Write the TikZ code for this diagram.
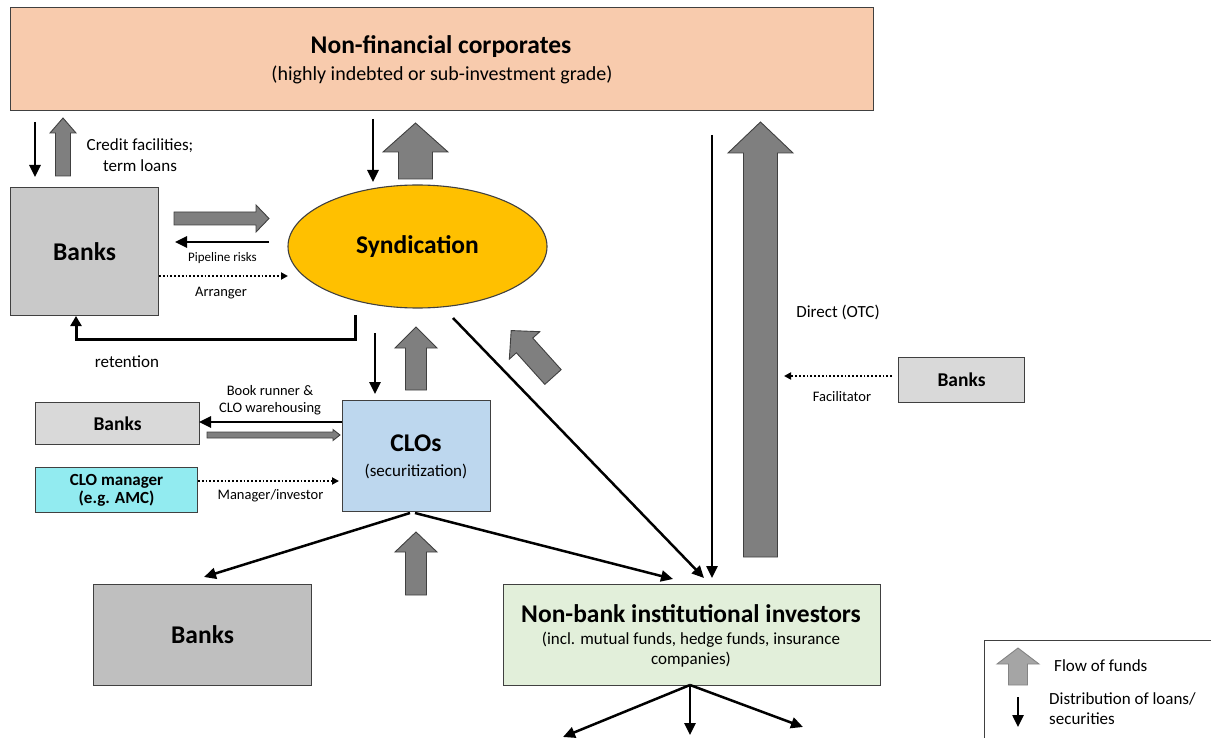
\documentclass[tikz,border=0pt]{standalone}
\usepackage{fontspec}
\setmainfont{Carlito}
\usetikzlibrary{arrows.meta,shapes.geometric,calc}
\definecolor{peach}{HTML}{F8CBAD}
\definecolor{gold}{HTML}{FFC000}
\definecolor{bankgray}{HTML}{C9C9C9}
\definecolor{lightgray}{HTML}{D9D9D9}
\definecolor{midgray}{HTML}{BFBFBF}
\definecolor{clob}{HTML}{BDD7EE}
\definecolor{cyanbox}{HTML}{92EBF0}
\definecolor{greenbox}{HTML}{E2EFDA}
\definecolor{flowgray}{HTML}{7F7F7F}
\definecolor{legendgray}{HTML}{A5A5A5}
\definecolor{edge}{HTML}{404040}
\newcommand{\fs}[1]{\fontsize{#1}{#1}\selectfont}
\newcommand{\blockarr}[7][]{%
  \begin{scope}[shift={(#2)},rotate=#3]
  \draw[flow,#1] (0,#5) -- ({#4-#7},#5) -- ({#4-#7},#6) -- (#4,0) -- ({#4-#7},-#6) -- ({#4-#7},-#5) -- (0,-#5) -- cycle;
  \end{scope}}
\tikzset{
  box/.style={draw=edge, line width=1.1pt, inner sep=0pt, align=center, anchor=north west},
  conn/.style={line width=2.5pt, -{Triangle[length=12pt,width=11pt]}},
  dotconn/.style={line width=1.8pt, dotted, -{Triangle[length=7pt,width=7pt]}},
  flow/.style={fill=flowgray, draw=edge, line width=0.9pt},
  lbl/.style={font=\fs{17}, align=center, inner sep=0pt},
  slbl/.style={font=\fs{14.5}, align=center, inner sep=0pt},
  big/.style={font=\fs{25.5}\bfseries},
}
\begin{document}
\begin{tikzpicture}[x=1pt,y=-1pt]
\useasboundingbox (0,0) rectangle (1211,738);
% boxes
\node[box, fill=peach, minimum width=863pt, minimum height=103pt] (nfc) at (10,7) {};
\node[big] (nfct) at (441,47) {Non-financial corporates};
\node[font=\fs{20}] (nfcs) at (442,75) {(highly indebted or sub-investment grade)};
\node[box, fill=bankgray, minimum width=148pt, minimum height=128pt, big] (banks1) at (10,187) {Banks};
\node[draw=edge, line width=1.1pt, fill=gold, ellipse, minimum width=259pt, minimum height=123pt, inner sep=0pt, big] (synd) at (417.5,246.5) {Syndication};
\node[box, fill=lightgray, minimum width=164pt, minimum height=42pt, font=\fs{19.5}\bfseries] (banks2) at (35,402) {Banks};
\node[box, fill=cyanbox, minimum width=162pt, minimum height=45pt, font=\fs{17}\bfseries] (mgr) at (35,467) {CLO manager\\[1pt](e.g. AMC)};
\node[box, fill=clob, minimum width=148pt, minimum height=111pt] (clo) at (342,400) {};
\node[big] (clot) at (416,443) {CLOs};
\node[lbl] (clos) at (416,471) {(securitization)};
\node[box, fill=midgray, minimum width=218pt, minimum height=101pt, big] (banks3) at (93,584) {Banks};
\node[box, fill=greenbox, minimum width=377pt, minimum height=101pt] (nbi) at (503,584) {};
\node[big] (nbit) at (691,614) {Non-bank institutional investors};
\node[lbl] (nbis) at (691,650) {(incl. mutual funds, hedge funds, insurance\\[3pt]companies)};
\node[box, fill=lightgray, minimum width=126pt, minimum height=45pt, font=\fs{19.5}\bfseries] (banks4) at (898,357) {Banks};
% legend
\node[draw=edge, line width=1.1pt, anchor=north west, minimum width=240pt, minimum height=110pt, inner sep=0pt] (legend) at (984,640) {};
\blockarr[fill=legendgray, draw=legendgray!80!black]{1018,685}{90}{37}{9.5}{21}{16}
\node[lbl, anchor=west] (leg1) at (1054,666) {Flow of funds};
\coordinate (lg1) at (1018,697);
\coordinate (lg2) at (1018,727);
\draw[conn] (lg1) -- (lg2);
\node[lbl, anchor=west, align=left] (leg2) at (1049,709) {Distribution of loans/\\[3pt]securities};
% flow of funds (block arrows)
\blockarr{63,176}{90}{58}{7.5}{13}{15}
\blockarr{174,218.5}{0}{95}{6.5}{13.5}{13}
\blockarr{415.5,179}{90}{56}{17}{32.5}{29}
\blockarr{416,390}{90}{63}{10.5}{21}{21}
\blockarr{553,377}{132}{62.5}{11}{20.5}{20}
\blockarr{207,435}{0}{133}{3}{5.5}{7}
\blockarr{416,595}{90}{63}{10.5}{21}{20}
\blockarr{760.5,557}{90}{435}{17}{32.5}{31}
% distribution connectors
\coordinate (a1) at (35,122);
\coordinate (a2) at (35,177);
\draw[conn] (a1) -- (a2);
\node[lbl] (credit) at (140,155) {Credit facilities;\\[4pt]term loans};
\coordinate (p1) at (269,242);
\coordinate (p2) at (175,242);
\draw[conn] (p1) -- (p2);
\node[font=\fs{13}] (pipe) at (222.5,258) {Pipeline risks};
\coordinate (r1) at (159,276);
\coordinate (r2) at (288,276);
\draw[dotconn] (r1) -- (r2);
\node[slbl] (arr) at (221,293) {Arranger};
\coordinate (t1) at (355,315);
\coordinate (t2) at (355,339);
\coordinate (t3) at (76,339);
\coordinate (t4) at (76,316);
\draw[line width=3pt, -{Triangle[length=10pt,width=11pt]}] (t1) -- (t2) -- (t3) -- (t4);
\node[lbl] (ret) at (127,362) {retention};
\coordinate (s1) at (373,119);
\coordinate (s2) at (373,182);
\draw[conn] (s1) -- (s2);
\coordinate (c1) at (375,333);
\coordinate (c2) at (375,394);
\draw[conn] (c1) -- (c2);
\coordinate (d1) at (453,318);
\coordinate (d2) at (704,578);
\draw[conn] (d1) -- (d2);
\coordinate (b1) at (342,422);
\coordinate (b2) at (199,422);
\draw[conn] (b1) -- (b2);
\node[slbl] (book) at (270,400) {Book runner \&\\[2pt]CLO warehousing};
\coordinate (m1) at (198,481);
\coordinate (m2) at (339,481);
\draw[dotconn] (m1) -- (m2);
\node[slbl] (mi) at (270.5,496) {Manager/investor};
\coordinate (e0) at (410,513);
\coordinate (e1) at (204,577);
\draw[conn] (e0) -- (e1);
\coordinate (f0) at (415,513);
\coordinate (f1) at (673,579);
\draw[conn] (f0) -- (f1);
\coordinate (l1) at (712,135);
\coordinate (l2) at (712,578);
\draw[conn] (l1) -- (l2);
\node[lbl] (otc) at (838,312) {Direct (OTC)};
\coordinate (g1) at (892,376);
\coordinate (g2) at (784,376);
\draw[dotconn] (g1) -- (g2);
\node[slbl] (fac) at (842,397) {Facilitator};
\coordinate (n0) at (690,685);
\coordinate (n1) at (563,737);
\coordinate (n2) at (690,735);
\coordinate (n3) at (803,727);
\draw[conn] (n0) -- (n1);
\draw[conn] (n0) -- (n2);
\draw[conn] (n0) -- (n3);
\end{tikzpicture}
\end{document}
